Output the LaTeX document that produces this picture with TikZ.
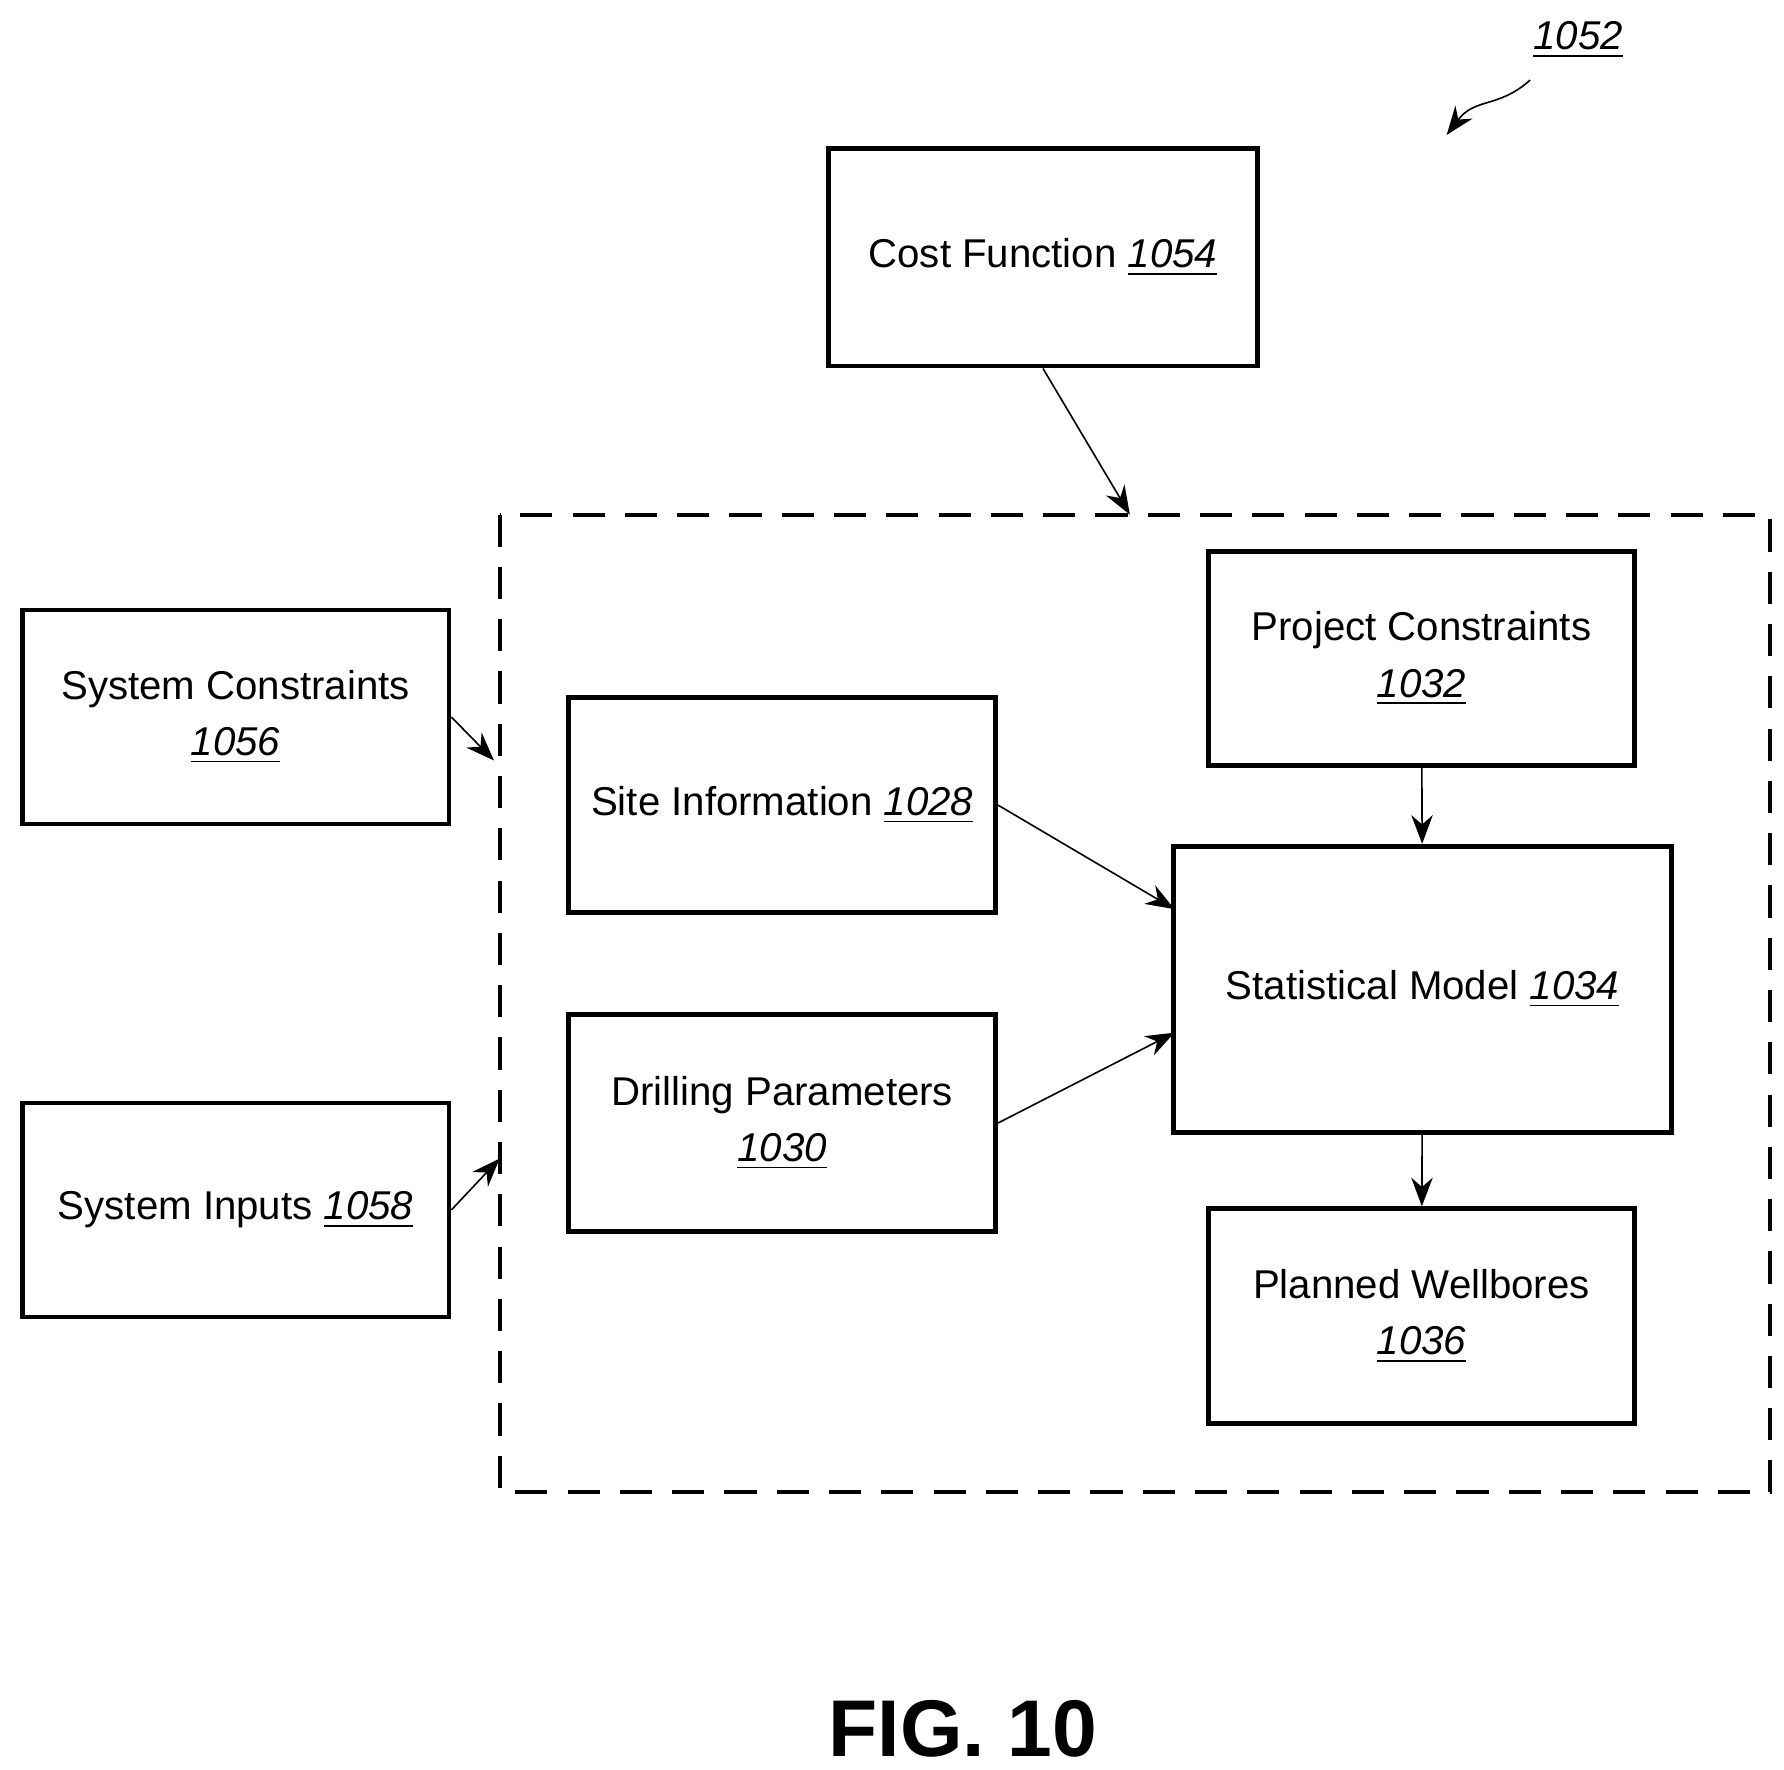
\documentclass[tikz,border=0pt]{standalone}
\usepackage{fontspec}
\setmainfont{Liberation Sans}
\usetikzlibrary{arrows.meta}

\begin{document}
\begin{tikzpicture}[x=0.01cm, y=-0.01cm, font=\fontsize{10}{14}\selectfont, -{Stealth[length=2.5mm]}]
	\useasboundingbox (0,0) rectangle (1560,1547);
      \tikzstyle{block} = [draw, line width=1.2pt, rectangle, align=center, inner sep=0pt]
      \node (cost) at (912,225) [block, minimum width=3.75cm, minimum height=1.9cm] {Cost Function \underline{\textit{1054}}};
      \node (syscon) at (206,627) [block, minimum width=3.73cm, minimum height=1.87cm] {System Constraints\\ \underline{\textit{1056}}};
      \node (sysin) at (206,1058) [block, minimum width=3.73cm, minimum height=1.87cm] {System Inputs \underline{\textit{1058}}};
      \node (site) at (684,704) [block, minimum width=3.73cm, minimum height=1.88cm] {Site Information \underline{\textit{1028}}};
      \node (drill) at (684,982) [block, minimum width=3.73cm, minimum height=1.89cm] {Drilling Parameters\\ \underline{\textit{1030}}};
      \node (proj) at (1243,576) [block, minimum width=3.73cm, minimum height=1.87cm] {Project Constraints\\ \underline{\textit{1032}}};
      \node (stat) at (1244,865) [block, minimum width=4.35cm, minimum height=2.5cm] {Statistical Model \underline{\textit{1034}}};
      \node (plan) at (1243,1151) [block, minimum width=3.73cm, minimum height=1.88cm] {Planned Wellbores\\ \underline{\textit{1036}}};
      \draw[-, dashed, line width=1pt, dash pattern=on 8pt off 5pt] (437,450) rectangle (1548,1305);
      \coordinate (top) at (988,450);
      \coordinate (cin) at (432,665);
      \coordinate (iin) at (437,1013);
      \node (ref) at (1380,35) {\underline{\textit{1052}}};
      \node (fig) at (842,1512) [font=\fontsize{20}{24}\selectfont\bfseries] {FIG. 10};
      \draw (cost.south) -- (top);
      \draw (syscon.east) -- (cin);
      \draw (sysin.east) -- (iin);
      \draw (site.east) -- (1027,795);
      \draw (drill.east) -- (1027,903);
      \draw (proj) -- (stat);
      \draw (stat) -- (plan);
      \draw (1338,70) .. controls (1310,95) and (1290,85) .. (1265,118);
    \end{tikzpicture}
\end{document}
